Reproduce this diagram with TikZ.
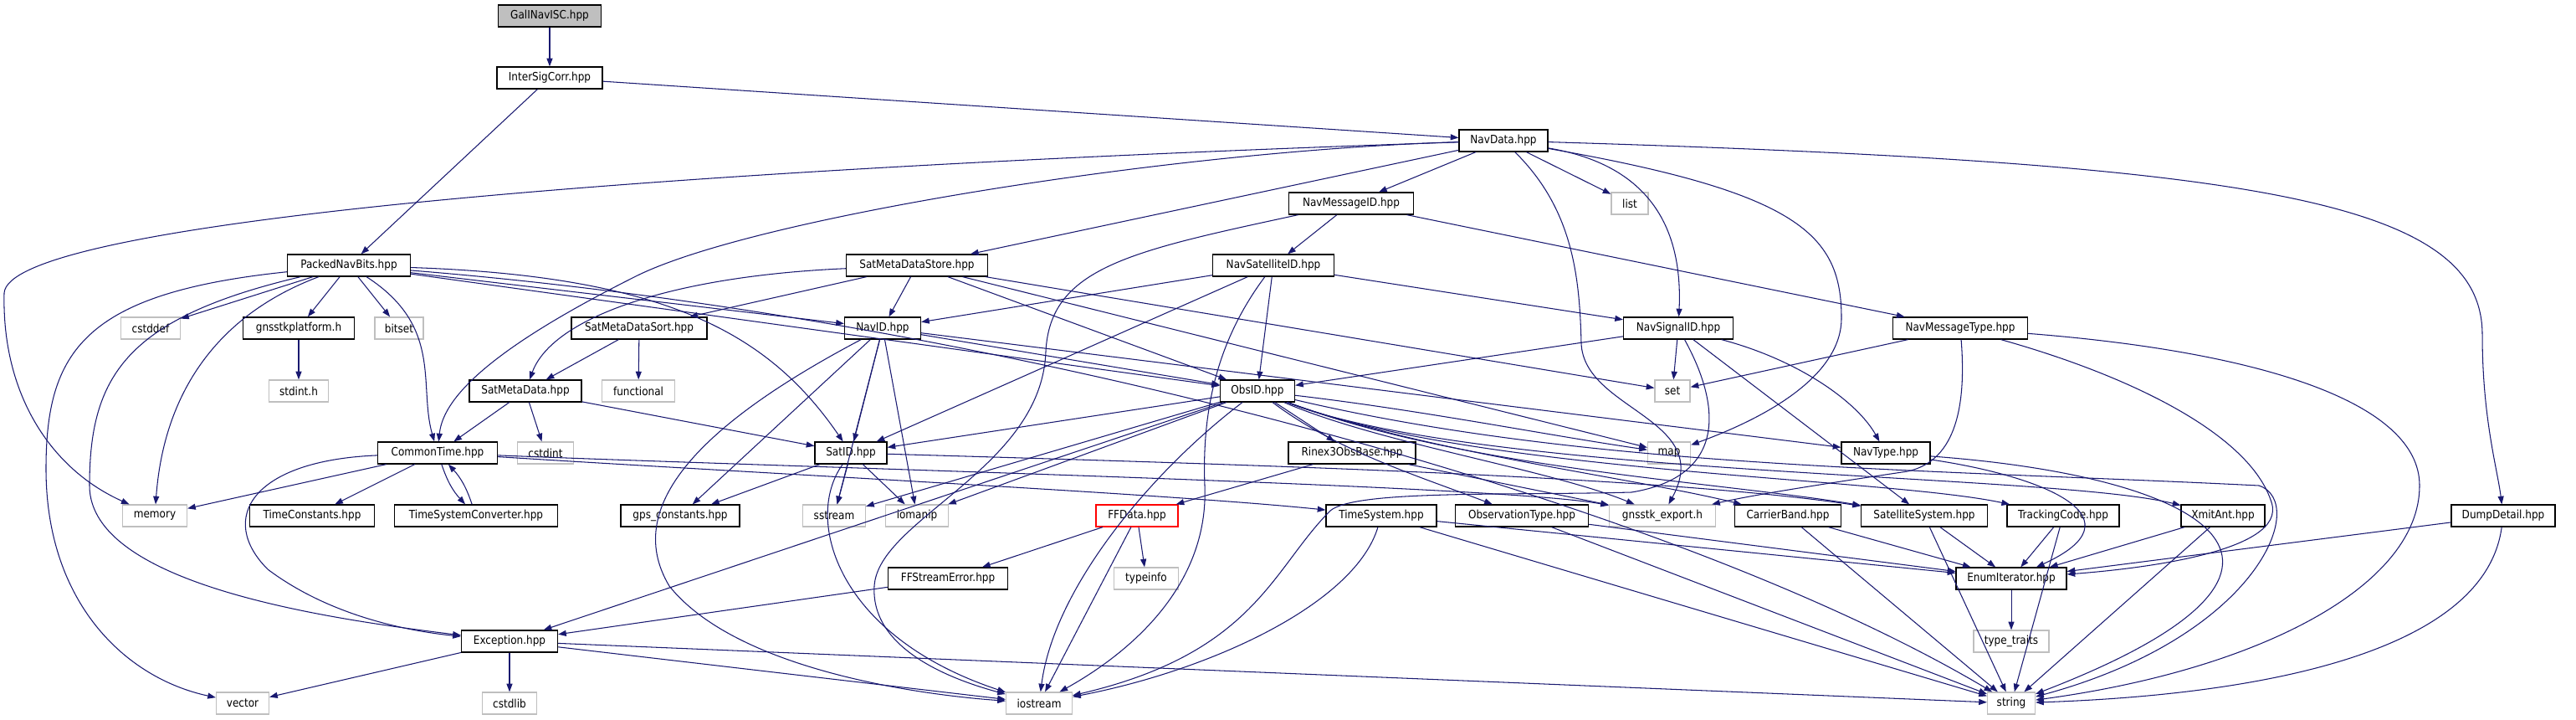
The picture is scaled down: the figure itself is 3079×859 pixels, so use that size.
\documentclass[tikz,border=0pt]{standalone}
\usepackage{fontspec}
\setmainfont{DejaVu Sans}[FakeStretch=0.88]
\usetikzlibrary{arrows.meta}
\definecolor{navblue}{HTML}{191970}
\definecolor{sysgray}{HTML}{BFBFBF}
\definecolor{truncred}{HTML}{FF0000}
\begin{document}
\begin{tikzpicture}[x=0.02cm, y=-0.02cm,
    file/.style={rectangle, draw=black, fill=white, line width=0.7pt,
                 minimum height=0.52cm, inner sep=0pt,
                 font=\fontsize{7.8}{9}\selectfont},
    sys/.style={file, draw=sysgray},
    root/.style={file, fill=sysgray},
    trunc/.style={file, draw=truncred},
    edge/.style={draw=navblue, line width=0.6pt,
                 -{Triangle[length=5.5pt, width=4pt]}}
  ]
    \useasboundingbox (0,0) rectangle (3079,859);
    % Top of the graph
    \node[root, minimum width=2.46cm] (galinav)  at (657,19)  {GalINavISC.hpp};
    \node[file, minimum width=2.52cm] (intersig) at (657,93)  {InterSigCorr.hpp};
    \node[file, minimum width=2.12cm] (navdata)  at (1797,168) {NavData.hpp};
    \node[file, minimum width=2.98cm] (navmsgid) at (1615,243) {NavMessageID.hpp};
    \node[sys,  minimum width=0.88cm] (list)     at (1948,243) {list};
    % Row of PackedNavBits
    \node[file, minimum width=2.94cm] (packed)     at (417,317)  {PackedNavBits.hpp};
    \node[file, minimum width=3.38cm] (satmdstore) at (1096,317) {SatMetaDataStore.hpp};
    \node[file, minimum width=2.90cm] (navsatid)   at (1522,317) {NavSatelliteID.hpp};
    % Row of NavID
    \node[sys,  minimum width=1.42cm] (cstddef)    at (180,392)  {cstddef};
    \node[file, minimum width=2.66cm] (platform)   at (357,392)  {gnsstkplatform.h};
    \node[sys,  minimum width=1.16cm] (bitset)     at (477,392)  {bitset};
    \node[file, minimum width=3.24cm] (satmdsort)  at (764,392)  {SatMetaDataSort.hpp};
    \node[file, minimum width=1.82cm] (navid)      at (1055,392) {NavID.hpp};
    \node[file, minimum width=2.62cm] (navsigid)   at (2006,392) {NavSignalID.hpp};
    \node[file, minimum width=3.22cm] (navmsgtype) at (2343,392) {NavMessageType.hpp};
    % Row of ObsID
    \node[sys,  minimum width=1.42cm] (stdint)     at (357,467)  {stdint.h};
    \node[file, minimum width=2.68cm] (satmd)      at (628,467)  {SatMetaData.hpp};
    \node[sys,  minimum width=1.74cm] (functional) at (763,467)  {functional};
    \node[file, minimum width=1.78cm] (obsid)      at (1503,467) {ObsID.hpp};
    \node[sys,  minimum width=0.84cm] (set)        at (1999,467) {set};
    % Row of SatID
    \node[file, minimum width=2.86cm] (commontime) at (523,541)  {CommonTime.hpp};
    \node[sys,  minimum width=1.34cm] (cstdint)    at (652,541)  {cstdint};
    \node[file, minimum width=1.72cm] (satid)      at (1017,541) {SatID.hpp};
    \node[file, minimum width=3.04cm] (rinex)      at (1616,541) {Rinex3ObsBase.hpp};
    \node[sys,  minimum width=1.02cm] (map)        at (1995,541) {map};
    \node[file, minimum width=2.12cm] (navtype)    at (2254,541) {NavType.hpp};
    % Row of the leaf headers
    \node[sys,  minimum width=1.54cm] (memory)    at (185,616)  {memory};
    \node[file, minimum width=2.98cm] (timeconst) at (373,616)  {TimeConstants.hpp};
    \node[file, minimum width=3.90cm] (tsconv)    at (569,616)  {TimeSystemConverter.hpp};
    \node[file, minimum width=2.84cm] (gpsconst)  at (813,616)  {gps\_constants.hpp};
    \node[sys,  minimum width=1.50cm] (sstream)   at (997,616)  {sstream};
    \node[sys,  minimum width=1.50cm] (iomanip)   at (1096,616) {iomanip};
    \node[trunc,minimum width=1.96cm] (ffdata)    at (1359,616) {FFData.hpp};
    \node[file, minimum width=2.64cm] (timesys)   at (1651,616) {TimeSystem.hpp};
    \node[file, minimum width=3.18cm] (obstype)   at (1819,616) {ObservationType.hpp};
    \node[sys,  minimum width=2.54cm] (export)    at (1987,616) {gnsstk\_export.h};
    \node[file, minimum width=2.54cm] (carrier)   at (2137,616) {CarrierBand.hpp};
    \node[file, minimum width=3.02cm] (satsys)    at (2300,616) {SatelliteSystem.hpp};
    \node[file, minimum width=2.68cm] (tracking)  at (2466,616) {TrackingCode.hpp};
    \node[file, minimum width=2.00cm] (xmitant)   at (2657,616) {XmitAnt.hpp};
    \node[file, minimum width=2.48cm] (dump)      at (2992,616) {DumpDetail.hpp};
    % Lower rows
    \node[file, minimum width=2.86cm] (ffstream)   at (1133,691) {FFStreamError.hpp};
    \node[sys,  minimum width=1.54cm] (typeinfo)   at (1370,691) {typeinfo};
    \node[file, minimum width=2.64cm] (enumit)     at (2404,691) {EnumIterator.hpp};
    \node[file, minimum width=2.30cm] (exception)  at (609,766)  {Exception.hpp};
    \node[sys,  minimum width=1.80cm] (typetraits) at (2404,766) {type\_traits};
    \node[sys,  minimum width=1.26cm] (vector)     at (290,840)  {vector};
    \node[sys,  minimum width=1.30cm] (cstdlib)    at (609,840)  {cstdlib};
    \node[sys,  minimum width=1.58cm] (iostream)   at (1242,840) {iostream};
    \node[sys,  minimum width=1.14cm] (string)     at (2404,840) {string};

    % GalINavISC and InterSigCorr
    \draw[edge] (galinav) -- (intersig);
    \draw[edge] (intersig) -- (packed);
    \draw[edge] (intersig) -- (navdata);

    % NavData
    \draw[edge] (navdata) .. controls (700,205) and (10,270) .. (5,350)
                .. controls (2,470) and (60,560) .. (memory);
    \draw[edge] (navdata) .. controls (1400,180) and (900,260) .. (760,330)
                .. controls (600,410) and (530,470) .. (commontime);
    \draw[edge] (navdata) -- (satmdstore);
    \draw[edge] (navdata) -- (navmsgid);
    \draw[edge] (navdata) -- (list);
    \draw[edge] (navdata) .. controls (1960,195) and (2012,260) .. (navsigid);
    \draw[edge] (navdata) .. controls (1880,250) and (1888,330) .. (1890,410)
                .. controls (1893,490) and (2050,500) .. (export);
    \draw[edge] (navdata) .. controls (2150,230) and (2201,280) .. (2201,380)
                .. controls (2201,460) and (2080,510) .. (map);
    \draw[edge] (navdata) .. controls (2700,195) and (2967,240) .. (2967,400)
                .. controls (2967,500) and (2985,560) .. (dump);

    % NavMessageID
    \draw[edge] (navmsgid) -- (navsatid);
    \draw[edge] (navmsgid) -- (navmsgtype);
    \draw[edge] (navmsgid) .. controls (1350,300) and (1255,320) .. (1250,420)
                .. controls (1245,560) and (1050,620) .. (1045,700)
                .. controls (1040,780) and (1150,815) .. (iostream);

    % PackedNavBits
    \draw[edge] (packed) -- (cstddef);
    \draw[edge] (packed) -- (platform);
    \draw[edge] (packed) -- (bitset);
    \draw[edge] (packed) .. controls (530,390) and (500,460) .. (commontime);
    \draw[edge] (packed) .. controls (250,380) and (195,480) .. (memory);
    \draw[edge] (packed) .. controls (100,350) and (55,420) .. (55,560)
                .. controls (55,720) and (150,810) .. (vector);
    \draw[edge] (packed) .. controls (150,380) and (107,450) .. (107,580)
                .. controls (107,700) and (400,740) .. (exception);
    \draw[edge] (packed) -- (navid);
    \draw[edge] (packed) .. controls (800,330) and (920,400) .. (satid);
    \draw[edge] (packed) -- (obsid);
    \draw[edge] (packed) .. controls (1200,380) and (2000,600) .. (string);
    \draw[edge] (platform) -- (stdint);

    % SatMetaDataStore
    \draw[edge] (satmdstore) -- (satmdsort);
    \draw[edge] (satmdstore) -- (navid);
    \draw[edge] (satmdstore) .. controls (800,330) and (660,380) .. (satmd);
    \draw[edge] (satmdstore) -- (obsid);
    \draw[edge] (satmdstore) -- (set);
    \draw[edge] (satmdstore) -- (map);
    \draw[edge] (satmdsort) -- (satmd);
    \draw[edge] (satmdsort) -- (functional);
    \draw[edge] (satmd) -- (commontime);
    \draw[edge] (satmd) -- (cstdint);
    \draw[edge] (satmd) -- (satid);

    % NavSatelliteID
    \draw[edge] (navsatid) -- (navid);
    \draw[edge] (navsatid) -- (satid);
    \draw[edge] (navsatid) -- (obsid);
    \draw[edge] (navsatid) -- (navsigid);
    \draw[edge] (navsatid) .. controls (1460,400) and (1436,480) .. (1440,580)
                .. controls (1445,700) and (1350,780) .. (iostream);

    % NavID
    \draw[edge] (navid) -- (satid);
    \draw[edge] (navid) -- (obsid);
    \draw[edge] (navid) -- (navtype);
    \draw[edge] (navid) -- (sstream);
    \draw[edge] (navid) -- (iomanip);
    \draw[edge] (navid) -- (gpsconst);
    \draw[edge] (navid) .. controls (850,500) and (740,600) .. (800,700)
                .. controls (880,800) and (1100,830) .. (iostream);

    % NavSignalID
    \draw[edge] (navsigid) -- (obsid);
    \draw[edge] (navsigid) -- (set);
    \draw[edge] (navsigid) .. controls (2150,430) and (2220,480) .. (navtype);
    \draw[edge] (navsigid) -- (satsys);
    \draw[edge] (navsigid) .. controls (2060,490) and (2060,570) .. (1950,588)
                .. controls (1800,592) and (1620,585) .. (1590,610)
                .. controls (1520,680) and (1500,780) .. (iostream);

    % NavMessageType
    \draw[edge] (navmsgtype) -- (set);
    \draw[edge] (navmsgtype) .. controls (2350,480) and (2340,550) .. (2280,563)
                .. controls (2200,575) and (2100,590) .. (export);
    \draw[edge] (navmsgtype) .. controls (2550,450) and (2690,520) .. (2715,600)
                .. controls (2735,660) and (2550,680) .. (enumit);
    \draw[edge] (navmsgtype) .. controls (2700,420) and (2892,480) .. (2892,580)
                .. controls (2892,700) and (2700,800) .. (string);

    % ObsID
    \draw[edge] (obsid) -- (satid);
    \draw[edge] (obsid) -- (sstream);
    \draw[edge] (obsid) -- (iomanip);
    \draw[edge] (obsid) .. controls (1380,560) and (1260,700) .. (iostream);
    \draw[edge] (obsid) -- (exception);
    \draw[edge] (obsid) -- (rinex);
    \draw[edge] (obsid) .. controls (1700,490) and (1850,520) .. (map);
    \draw[edge] (obsid) .. controls (1650,530) and (1850,560) .. (export);
    \draw[edge] (obsid) .. controls (1600,540) and (1700,570) .. (obstype);
    \draw[edge] (obsid) .. controls (1700,540) and (1950,570) .. (carrier);
    \draw[edge] (obsid) .. controls (1750,560) and (2050,575) .. (satsys);
    \draw[edge] (obsid) .. controls (1760,565) and (2250,570) .. (tracking);
    \draw[edge] (obsid) .. controls (1770,570) and (2450,565) .. (xmitant);
    \draw[edge] (obsid) .. controls (1900,560) and (2300,560) .. (2700,580)
                .. controls (2760,600) and (2700,760) .. (string);

    % SatID
    \draw[edge] (satid) -- (sstream);
    \draw[edge] (satid) -- (iomanip);
    \draw[edge] (satid) -- (gpsconst);
    \draw[edge] (satid) .. controls (960,620) and (1000,760) .. (iostream);
    \draw[edge] (satid) .. controls (1500,555) and (2000,570) .. (satsys);

    % CommonTime
    \draw[edge] (commontime) -- (memory);
    \draw[edge] (commontime) -- (timeconst);
    \draw[edge] (commontime) to[bend right=12] (tsconv);
    \draw[edge] (tsconv) to[bend right=12] (commontime);
    \draw[edge] (commontime) .. controls (900,565) and (1400,590) .. (timesys);
    \draw[edge] (commontime) .. controls (1000,560) and (1800,580) .. (export);
    \draw[edge] (commontime) .. controls (300,550) and (260,620) .. (320,680)
                .. controls (400,740) and (500,755) .. (exception);

    % File handling
    \draw[edge] (rinex) -- (ffdata);
    \draw[edge] (rinex) -- (export);
    \draw[edge] (ffdata) -- (ffstream);
    \draw[edge] (ffdata) -- (typeinfo);
    \draw[edge] (ffdata) -- (iostream);
    \draw[edge] (ffstream) -- (exception);

    % Exception
    \draw[edge] (exception) -- (vector);
    \draw[edge] (exception) -- (cstdlib);
    \draw[edge] (exception) -- (iostream);
    \draw[edge] (exception) -- (string);

    % Enum headers
    \draw[edge] (timesys) -- (enumit);
    \draw[edge] (timesys) -- (string);
    \draw[edge] (timesys) .. controls (1620,720) and (1450,800) .. (iostream);
    \draw[edge] (obstype) -- (enumit);
    \draw[edge] (obstype) -- (string);
    \draw[edge] (carrier) -- (enumit);
    \draw[edge] (carrier) -- (string);
    \draw[edge] (satsys) -- (enumit);
    \draw[edge] (satsys) -- (string);
    \draw[edge] (tracking) -- (enumit);
    \draw[edge] (tracking) -- (string);
    \draw[edge] (xmitant) -- (enumit);
    \draw[edge] (xmitant) -- (string);
    \draw[edge] (dump) -- (enumit);
    \draw[edge] (dump) .. controls (2970,780) and (2700,830) .. (string);
    \draw[edge] (navtype) .. controls (2450,570) and (2560,620) .. (enumit);
    \draw[edge] (navtype) .. controls (2650,570) and (2820,680) .. (string);
    \draw[edge] (enumit) -- (typetraits);
\end{tikzpicture}
\end{document}
